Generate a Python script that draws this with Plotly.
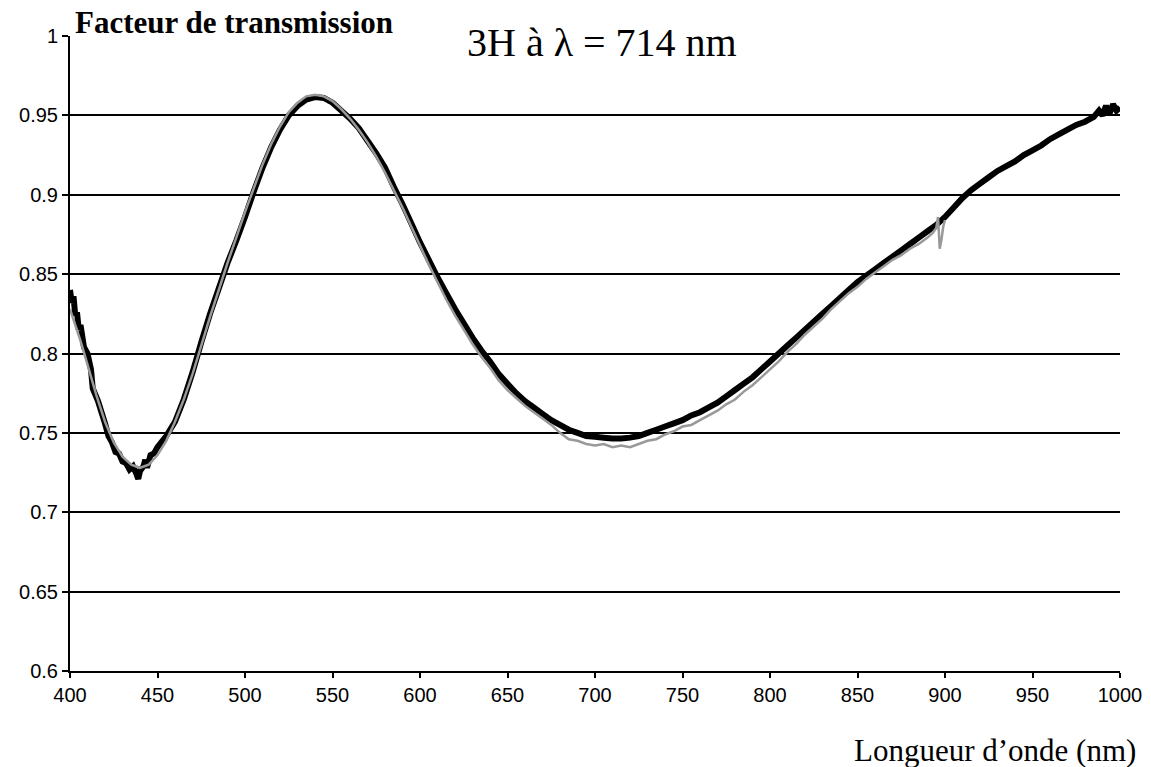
import plotly.graph_objects as go

# measured transmission (black, thick)
wl_mes = [400, 401, 402, 403, 404, 405, 406, 408, 410, 412, 413, 416, 418, 420, 422, 424,
          426, 428, 430, 432, 434, 436, 438, 439, 440, 442, 443, 444, 446, 448, 450,
          455, 460, 465, 470, 475, 480, 485, 490, 495, 500, 505, 510, 515, 520, 525,
          530, 535, 540, 545, 550, 555, 560, 565, 570, 575, 580, 585, 590, 595, 600,
          605, 610, 615, 620, 625, 630, 635, 640, 645, 650, 655, 660, 665, 670, 675,
          680, 685, 690, 695, 700, 705, 710, 715, 720, 725, 730, 735, 740, 745, 750,
          755, 760, 765, 770, 775, 780, 785, 790, 795, 800, 805, 810, 815, 820, 825,
          830, 835, 840, 845, 850, 855, 860, 865, 870, 875, 880, 885, 890, 895, 900,
          905, 910, 915, 920, 925, 930, 935, 940, 945, 950, 955, 960, 965, 970, 975,
          980, 985, 988, 990, 992, 994, 996, 998, 1000]
t_mes = [0.840, 0.832, 0.836, 0.824, 0.826, 0.815, 0.818, 0.804, 0.800, 0.790, 0.778, 0.770, 0.763, 0.756, 0.748, 0.744,
         0.738, 0.737, 0.732, 0.731, 0.727, 0.729, 0.724, 0.721, 0.726, 0.729, 0.733, 0.728, 0.736, 0.737, 0.741,
         0.748, 0.757, 0.771, 0.788, 0.807, 0.825, 0.841, 0.857, 0.871, 0.886, 0.902, 0.917, 0.930, 0.941, 0.950,
         0.956, 0.960, 0.9615, 0.961, 0.958, 0.953, 0.948, 0.942, 0.934, 0.926, 0.917, 0.905, 0.894, 0.882, 0.870,
         0.859, 0.848, 0.838, 0.828, 0.819, 0.810, 0.802, 0.795, 0.787, 0.781, 0.775, 0.770, 0.766, 0.762, 0.758,
         0.755, 0.752, 0.750, 0.748, 0.7475, 0.747, 0.7465, 0.7465, 0.747, 0.748, 0.750, 0.752, 0.754, 0.756, 0.758,
         0.761, 0.763, 0.766, 0.769, 0.773, 0.777, 0.781, 0.785, 0.790, 0.795, 0.800, 0.805, 0.810, 0.815, 0.820,
         0.825, 0.830, 0.835, 0.840, 0.845, 0.849, 0.853, 0.857, 0.861, 0.865, 0.869, 0.873, 0.877, 0.881, 0.886,
         0.892, 0.898, 0.903, 0.907, 0.911, 0.915, 0.918, 0.921, 0.925, 0.928, 0.931, 0.935, 0.938, 0.941, 0.944,
         0.946, 0.949, 0.953, 0.950, 0.956, 0.951, 0.957, 0.953, 0.955]

# calculated transmission (grey, thin)
wl_cal = [400, 403, 406, 410, 415, 420, 425, 430, 435, 440, 445, 450, 455, 460, 465, 470,
          475, 480, 485, 490, 495, 500, 505, 510, 515, 520, 525, 530, 535, 540, 545,
          550, 555, 560, 565, 570, 575, 580, 585, 590, 595, 600, 605, 610, 615, 620,
          625, 630, 635, 640, 645, 650, 655, 660, 665, 670, 675, 680, 685, 690, 695,
          700, 705, 710, 715, 720, 725, 730, 735, 740, 745, 750, 755, 760, 765, 770,
          775, 780, 785, 790, 795, 800, 805, 810, 815, 820, 825, 830, 835, 840, 845,
          850, 855, 860, 865, 870, 875, 880, 885, 890, 893, 895, 896, 897, 898, 899, 900]
t_cal = [0.828, 0.818, 0.808, 0.793, 0.774, 0.757, 0.744, 0.735, 0.730, 0.728, 0.730, 0.736, 0.745, 0.757, 0.771, 0.787,
         0.805, 0.823, 0.840, 0.857, 0.873, 0.889, 0.904, 0.919, 0.932, 0.943, 0.952, 0.958, 0.962, 0.963, 0.962,
         0.959, 0.954, 0.948, 0.941, 0.933, 0.924, 0.914, 0.903, 0.892, 0.880, 0.868, 0.856, 0.845, 0.834, 0.824,
         0.815, 0.806, 0.798, 0.791, 0.783, 0.777, 0.772, 0.767, 0.763, 0.759, 0.755, 0.750, 0.746, 0.745, 0.743,
         0.742, 0.743, 0.741, 0.742, 0.741, 0.743, 0.745, 0.746, 0.749, 0.751, 0.754, 0.755, 0.758, 0.761, 0.764,
         0.768, 0.771, 0.776, 0.780, 0.785, 0.790, 0.795, 0.801, 0.806, 0.812, 0.817, 0.822, 0.828, 0.833, 0.838,
         0.842, 0.847, 0.851, 0.855, 0.859, 0.862, 0.866, 0.869, 0.873, 0.876, 0.879, 0.886, 0.866, 0.872, 0.880, 0.884]

x_ticks = [400, 450, 500, 550, 600, 650, 700, 750, 800, 850, 900, 950, 1000]
y_ticks = [0.6, 0.65, 0.7, 0.75, 0.8, 0.85, 0.9, 0.95, 1]
y_labels = ["0.6", "0.65", "0.7", "0.75", "0.8", "0.85", "0.9", "0.95", "1"]

serif = "Liberation Serif, Times New Roman, serif"
sans = "Liberation Sans, Arial, sans-serif"

fig = go.Figure()
fig.add_trace(go.Scatter(x=wl_mes, y=t_mes, mode="lines",
                         line=dict(color="black", width=6, simplify=False), showlegend=False))
fig.add_trace(go.Scatter(x=wl_cal, y=t_cal, mode="lines",
                         line=dict(color="#999999", width=2.5, simplify=False), showlegend=False))

fig.update_layout(
    width=1151, height=767,
    margin=dict(l=70, r=31, t=36, b=96),
    plot_bgcolor="white", paper_bgcolor="white",
    font=dict(family=sans, size=20, color="black"),
    xaxis=dict(range=[400, 1000], tickvals=x_ticks, showgrid=False, zeroline=False,
               showline=True, linecolor="black", linewidth=2, automargin=False,
               ticks="outside", ticklen=5, tickcolor="black", tickwidth=2,
               tickfont=dict(family=sans, size=20)),
    yaxis=dict(range=[0.6, 1], tickvals=y_ticks, ticktext=y_labels,
               showgrid=True, gridcolor="black", gridwidth=1.5, zeroline=False,
               showline=True, linecolor="black", linewidth=2, automargin=False,
               ticks="outside", ticklen=6, tickcolor="black", tickwidth=2,
               tickfont=dict(family=sans, size=20)),
    annotations=[
        dict(text="<b>Facteur de transmission</b>", xref="paper", yref="paper",
             x=0.0, y=1, xanchor="left", yanchor="bottom", xshift=3, yshift=-6, showarrow=False,
             font=dict(family=serif, size=31, color="black")),
        dict(text="3H à λ = 714 nm", xref="paper", yref="paper",
             x=0.507, y=0.985, xanchor="center", yanchor="middle", yshift=3, showarrow=False,
             font=dict(family=serif, size=40, color="black")),
        dict(text="Longueur d’onde (nm)", xref="paper", yref="paper",
             x=1.017, y=-0.0945, xanchor="right", yanchor="top", showarrow=False,
             font=dict(family=serif, size=31, color="black")),
    ],
)

# the page body has a default 8px margin; drop it so the figure sits at the top-left corner
fig.write_html("out.html", config={"displayModeBar": False},
               post_script="document.body.style.margin='0';")
